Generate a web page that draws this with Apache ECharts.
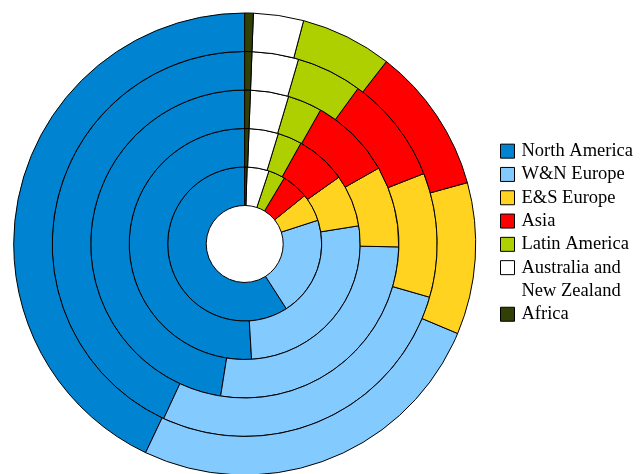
<!DOCTYPE html>
<html>
<head>
<meta charset="utf-8">
<script src="https://cdn.jsdelivr.net/npm/echarts@6/dist/echarts.min.js"></script>
<style>html,body{margin:0;padding:0;background:#fff}#c{width:644px;height:474px}</style>
</head>
<body>
<div id="c"></div>
<script>
// Categories (legend order; drawn counter-clockwise from 12 o'clock)
const regions = ['North America', 'W&N Europe', 'E&S Europe', 'Asia', 'Latin America', 'Australia and\nNew Zealand', 'Africa'];
// Share (%) per ring, innermost ring first
const ring1 = [59.1, 20.9, 5.8, 5.6, 3.5, 4.6, 0.5];
const ring2 = [51.0, 26.6, 7.3, 7.1, 3.4, 4.1, 0.6];
const ring3 = [47.5, 27.2, 8.5, 8.6, 3.6, 4.0, 0.6];
const ring4 = [43.0, 27.4, 10.4, 9.0, 5.5, 3.9, 0.6];
const ring5 = [42.9, 25.7, 10.6, 10.2, 6.4, 3.5, 0.6];

const rings = [ring1, ring2, ring3, ring4, ring5];
const colors = ['#0084d1', '#83caff', '#ffd320', '#ff0000', '#aecf00', '#ffffff', '#314004'];
const radii = [[38.5, 77], [77, 115.5], [115.5, 154], [154, 192.5], [192.5, 231]];

const LH = 23.3;
const legendTop = 139.5;
const baseLegend = {
  orient: 'vertical',
  left: 500,
  padding: 0,
  itemGap: 0,
  itemWidth: 14,
  itemHeight: 14,
  icon: 'rect',
  selectedMode: false,
  itemStyle: {borderColor: '#000', borderWidth: 1},
  textStyle: {fontFamily: 'Liberation Serif', fontSize: 18.5, color: '#000', lineHeight: LH, padding: [0, 0, 0, 2]}
};
const multi = regions.filter(n => n.indexOf('\n') >= 0);
const firstGroup = regions.slice(0, regions.indexOf(multi[0]) + 1);
const secondGroup = regions.slice(regions.indexOf(multi[0]) + 1);

const chart = echarts.init(document.getElementById('c'), null, {renderer: 'canvas'});
chart.setOption({
  animation: false,
  backgroundColor: '#ffffff',
  color: colors,
  legend: [
    Object.assign({}, baseLegend, {
      top: legendTop,
      data: firstGroup.map(n => n.indexOf('\n') >= 0
        ? {name: n, textStyle: {rich: {x: {}}, height: LH, lineHeight: LH}}
        : n)
    }),
    Object.assign({}, baseLegend, {
      top: legendTop + LH * (firstGroup.length + 1),
      data: secondGroup
    })
  ],
  series: rings.map((vals, i) => ({
    type: 'pie',
    radius: radii[i],
    center: [244.7, 244],
    startAngle: 90,
    clockwise: false,
    silent: true,
    avoidLabelOverlap: false,
    label: {show: false},
    labelLine: {show: false},
    emphasis: {disabled: true},
    itemStyle: {borderColor: '#000', borderWidth: 1},
    data: regions.map((n, j) => ({name: n, value: vals[j], itemStyle: {color: colors[j]}}))
  }))
});
</script>
</body>
</html>
